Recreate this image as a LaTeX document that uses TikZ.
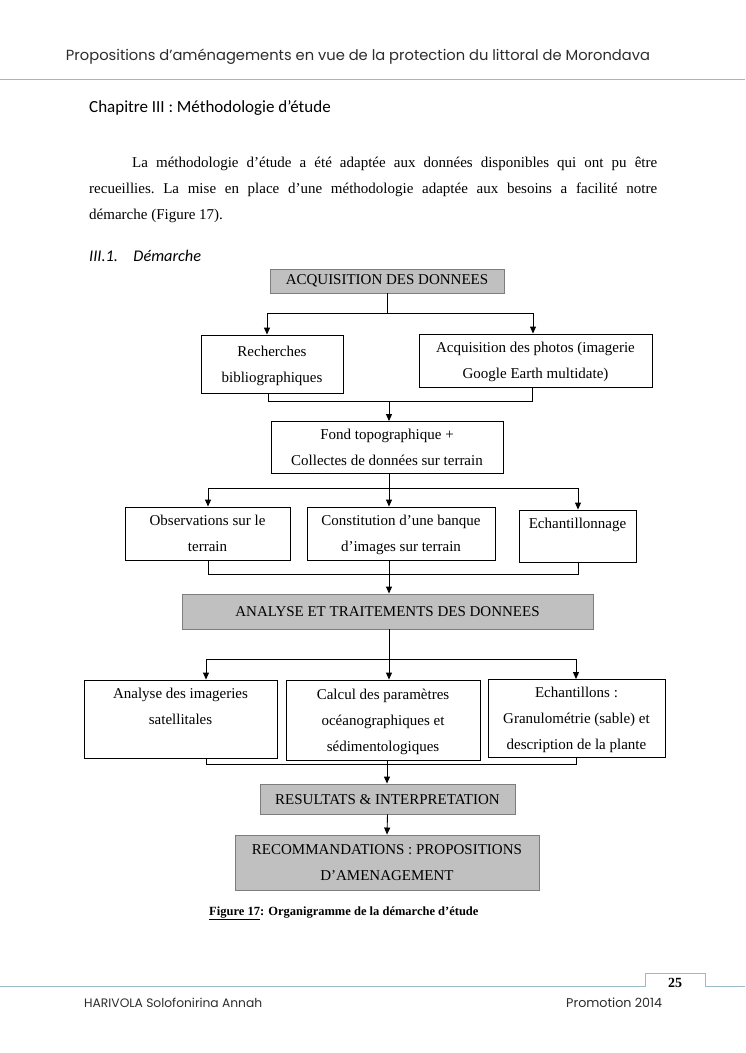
\documentclass[tikz,border=0pt]{standalone}
\usepackage{fontspec}
\setmainfont{Liberation Serif}
\newfontfamily\hdrfont{Poppins}
\newfontfamily\calfont{Carlito}
\usetikzlibrary{arrows.meta}
\definecolor{boxgray}{RGB}{192,192,192}
\definecolor{boxborder}{RGB}{125,125,125}
\definecolor{rulecol}{RGB}{155,186,200}
\definecolor{hdrtext}{RGB}{45,45,45}
\newcommand{\mystrut}{\strut}
\begin{document}
\begin{tikzpicture}[x=1pt,y=-1pt,
  wbox/.style={draw, line width=0.9pt, fill=white, inner sep=0pt, align=center,
    font=\fontsize{15}{26}\selectfont},
  gbox/.style={wbox, fill=boxgray, draw=boxborder},
  arr/.style={-{Triangle[length=7pt,width=6pt]}, line width=0.9pt},
  conn/.style={line width=0.9pt},
  rule/.style={draw=rulecol, line width=0.9pt}]
\useasboundingbox (0,0) rectangle (745,1053);
\fill[white] (0,0) rectangle (745,1053);

% header
\node[anchor=base, inner sep=0, text=hdrtext] (hdr) at (358,60)
  {\resizebox{584pt}{!}{\hdrfont Propositions d’aménagements en vue de la protection du littoral de Morondava}};
\coordinate (hl) at (0,79); \coordinate (hr) at (745,79);
\draw[rule] (hl) -- (hr);

% chapter title
\node[anchor=base west, inner sep=0] (chap) at (89,112)
  {\calfont\fontsize{17}{20}\selectfont Chapitre III : Méthodologie d’étude};

% paragraph
\node[anchor=north west, inner sep=0, text width=568pt, align=justify,
  font=\fontsize{15}{26}\selectfont] (para) at (89,148.8)
  {\frenchspacing\strut\hspace*{43pt}La méthodologie d’étude a été adaptée aux données disponibles qui ont pu être\linebreak
   recueillies. La mise en place d’une méthodologie adaptée aux besoins a facilité notre\linebreak
   démarche (Figure 17).\hfill\null};

% section heading
\node[anchor=base west, inner sep=0] (sec) at (89,261)
  {\calfont\itshape\fontsize{16.3}{20}\selectfont III.1.\hspace{15.5pt}Démarche};

% boxes
\node[gbox, minimum width=234, minimum height=24] (b1) at (387,281)
  {\raisebox{-1pt}{ACQUISITION DES DONNEES}};
\node[wbox, minimum width=142, minimum height=58] (b2) at (272,364)
  {\mystrut Recherches\\\mystrut bibliographiques};
\node[wbox, minimum width=233, minimum height=53] (b3) at (535.5,360.5)
  {\mystrut Acquisition des photos (imagerie\\\mystrut Google Earth multidate)};
\node[wbox, minimum width=232, minimum height=51] (b4) at (387,447.5)
  {\mystrut Fond topographique +\\\mystrut Collectes de données sur terrain};
\node[wbox, minimum width=165, minimum height=53] (b5) at (207.5,533.5)
  {\mystrut Observations sur le\\\mystrut terrain};
\node[wbox, minimum width=188, minimum height=53] (b6) at (401,533.5)
  {\mystrut Constitution d’une banque\\\mystrut d’images sur terrain};
\node[wbox, minimum width=117, minimum height=48] (b7) at (577.5,536)
  {\mystrut Echantillonnage\\\mystrut};
\node[gbox, minimum width=411, minimum height=35] (b8) at (387.5,611.5)
  {\raisebox{3pt}{\mystrut ANALYSE ET TRAITEMENTS DES DONNEES}};
\node[wbox, minimum width=193, minimum height=78] (b9) at (180.5,719)
  {\mystrut Analyse des imageries\\\mystrut satellitales\\\mystrut};
\node[wbox, minimum width=194, minimum height=80] (b10) at (383,720)
  {\mystrut Calcul des paramètres\\\mystrut océanographiques et\\\mystrut sédimentologiques};
\node[wbox, minimum width=177, minimum height=77] (b11) at (576.5,718.5)
  {\mystrut Echantillons :\\\mystrut Granulométrie (sable) et\\\mystrut description de la plante};
\node[gbox, minimum width=255, minimum height=30] (b12) at (387.5,799)
  {\mystrut RESULTATS \& INTERPRETATION};
\node[gbox, minimum width=304, minimum height=55] (b13) at (387,862.5)
  {\mystrut RECOMMANDATIONS : PROPOSITIONS\\\mystrut D’AMENAGEMENT};

% junction coordinates
\coordinate (j1) at (387,313); \coordinate (j1L) at (267,313); \coordinate (j1R) at (533,313);
\coordinate (j2L) at (268,401); \coordinate (j2R) at (532,401); \coordinate (j2) at (389,401);
\coordinate (j3) at (389,488); \coordinate (j3L) at (208,488); \coordinate (j3R) at (578,488);
\coordinate (j4L) at (208,574); \coordinate (j4) at (389,574); \coordinate (j4R) at (578,574);
\coordinate (j5) at (389,659); \coordinate (j5L) at (206,659); \coordinate (j5R) at (576,659);
\coordinate (j6L) at (206,764); \coordinate (j6) at (387,764); \coordinate (j6R) at (576,764);

% connectors
\draw[conn] (b1.south) -- (j1);
\draw[conn] (j1L) -- (j1R);
\draw[arr] (j1L) -- (j1L |- b2.north);
\draw[arr] (j1R) -- (j1R |- b3.north);

\draw[conn] (j2L |- b2.south) -- (j2L) -- (j2R) -- (j2R |- b3.south);
\draw[arr] (j2) -- (j2 |- b4.north);

\draw[conn] (j3 |- b4.south) -- (j3);
\draw[conn] (j3L) -- (j3R);
\draw[arr] (j3L) -- (j3L |- b5.north);
\draw[arr] (j3) -- (j3 |- b6.north);
\draw[arr] (j3R) -- (j3R |- b7.north);

\draw[conn] (j4L |- b5.south) -- (j4L) -- (j4R) -- (j4R |- b7.south);
\draw[conn] (j4 |- b6.south) -- (j4);
\draw[arr] (j4) -- (j4 |- b8.north);

\draw[conn] (j5 |- b8.south) -- (j5);
\draw[conn] (j5L) -- (j5R);
\draw[arr] (j5L) -- (j5L |- b9.north);
\draw[arr] (j5) -- (j5 |- b10.north);
\draw[arr] (j5R) -- (j5R |- b11.north);

\draw[conn] (j6L |- b9.south) -- (j6L) -- (j6R) -- (j6R |- b11.south);
\draw[arr] (j6 |- b10.south) -- (j6 |- b12.north);
\draw[arr] (b12.south) -- (b13.north);

% caption
\node[anchor=base west, inner sep=0, font=\bfseries\fontsize{12.5}{15}\selectfont] (cap) at (209,915)
  {\underline{Figure 17}: Organigramme de la démarche d'étude};

% footer
\coordinate (f1) at (0,986); \coordinate (f2) at (645,986); \coordinate (f3) at (645,973);
\coordinate (f4) at (705,973); \coordinate (f5) at (705,986); \coordinate (f6) at (745,986);
\draw[rule] (f1) -- (f2) -- (f3) -- (f4) -- (f5) -- (f6);
\node[anchor=base, inner sep=0, font=\bfseries\fontsize{14}{16}\selectfont] (pg) at (675,987) {25};
\node[anchor=base west, inner sep=0, text=hdrtext] (auth) at (84,1007)
  {\resizebox{178pt}{!}{\hdrfont HARIVOLA Solofonirina Annah}};
\node[anchor=base west, inner sep=0, text=hdrtext] (promo) at (566,1007)
  {\resizebox{96pt}{!}{\hdrfont Promotion 2014}};
\end{tikzpicture}
\end{document}
